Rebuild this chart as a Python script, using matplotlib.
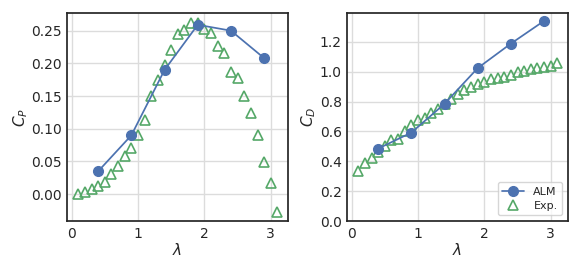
import matplotlib
matplotlib.use("Agg")
import matplotlib.pyplot as plt
import seaborn as sns

sns.set_theme(style="whitegrid")
plt.rcParams['font.family'] = ['DejaVu Sans']

lam_exp = [0.1, 0.2, 0.3, 0.4, 0.5, 0.6, 0.7, 0.8, 0.9, 1.0, 1.1, 1.2, 1.3, 1.4, 1.5, 1.6,
           1.7, 1.8, 1.9, 2.0, 2.1, 2.2, 2.3, 2.4, 2.5, 2.6, 2.7, 2.8, 2.9, 3.0, 3.1]
cp_exp = [0.001, 0.004, 0.008, 0.012, 0.018, 0.031, 0.043, 0.058, 0.070, 0.091, 0.114,
          0.150, 0.174, 0.198, 0.221, 0.245, 0.251, 0.261, 0.262, 0.253, 0.246, 0.227,
          0.216, 0.187, 0.177, 0.150, 0.124, 0.091, 0.049, 0.017, -0.027]
cd_exp = [0.335, 0.390, 0.421, 0.465, 0.505, 0.545, 0.552, 0.601, 0.646, 0.673, 0.693,
          0.720, 0.753, 0.785, 0.816, 0.848, 0.877, 0.900, 0.915, 0.930, 0.948, 0.958,
          0.966, 0.977, 0.997, 1.004, 1.017, 1.027, 1.030, 1.038, 1.056]

lam_alm = [0.4, 0.9, 1.4, 1.9, 2.4, 2.9]
cp_alm = [0.035, 0.090, 0.190, 0.259, 0.250, 0.208]
cd_alm = [0.485, 0.592, 0.785, 1.024, 1.188, 1.340]

blue = "#4C72B0"
green = "#55A868"

fig = plt.figure(figsize=(5.81, 2.71), dpi=100)
ax1 = fig.add_axes([0.1158, 0.1845, 0.3794, 0.7665])
ax2 = fig.add_axes([0.5978, 0.1845, 0.3792, 0.7665])

for ax, alm, exp in [(ax1, cp_alm, cp_exp), (ax2, cd_alm, cd_exp)]:
    ax.plot(lam_alm, alm, '-o', color=blue, lw=1.25, ms=7, label='ALM', zorder=3)
    ax.plot(lam_exp, exp, '^', ms=7, mfc='none', mec=green, mew=1.2, ls='none',
            label='Exp.', zorder=2)
    for s in ax.spines.values():
        s.set_color('#262626')
        s.set_linewidth(1.25)
    ax.tick_params(labelsize=10, colors='#262626', length=0, pad=4)
    ax.set_xlabel(r'$\lambda$', fontsize=11, labelpad=1)
    ax.grid(True, color='#dcdcdc', lw=1.0)

ax1.set_ylabel(r'$C_P$', fontsize=11, labelpad=1)
ax2.set_ylabel(r'$C_D$', fontsize=11, labelpad=1)
ax1.set_yticks([0.0, 0.05, 0.10, 0.15, 0.20, 0.25])
ax1.set_yticklabels(['0.00', '0.05', '0.10', '0.15', '0.20', '0.25'])
ax2.set_yticks([0.0, 0.2, 0.4, 0.6, 0.8, 1.0, 1.2])
ax2.set_ylim(0, 1.391)
ax1.set_ylim(-0.041, 0.2766)
for ax in (ax1, ax2):
    ax.set_xticks([0, 1, 2, 3])
    ax.set_xlim(-0.065, 3.255)

ax2.legend(loc='lower right', fontsize=8, frameon=True, borderpad=0.4,
           handlelength=2.0, labelspacing=0.4)

fig.savefig('out.png', dpi=100)
